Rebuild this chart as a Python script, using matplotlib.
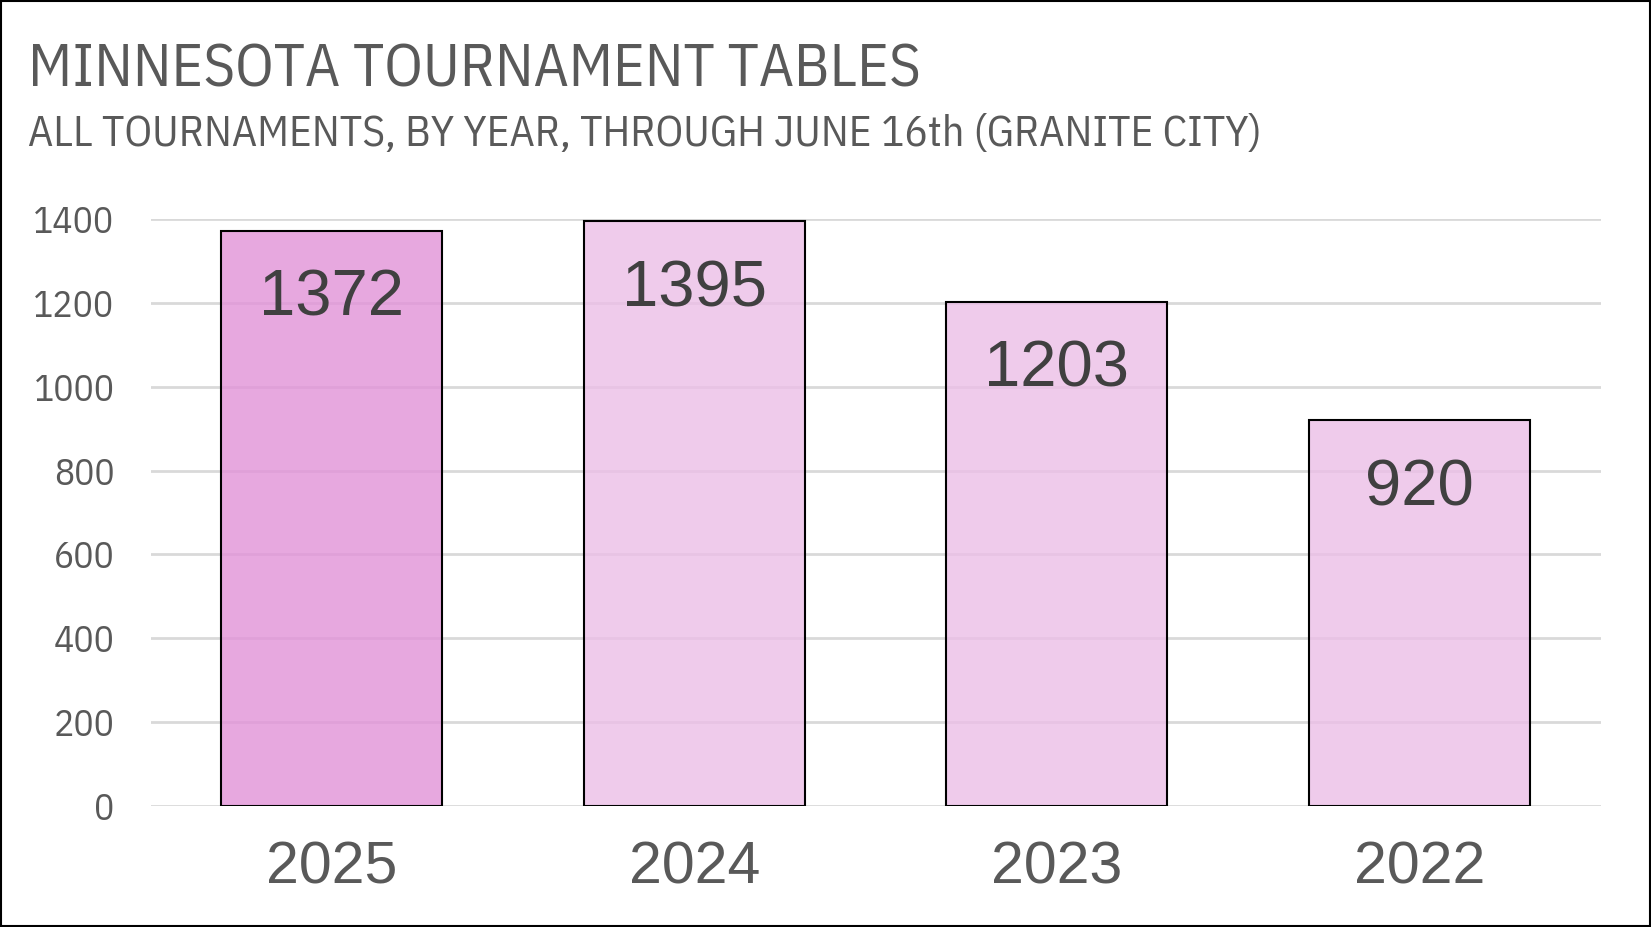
import matplotlib.pyplot as plt
from matplotlib.patches import Rectangle

# data
years = ['2025', '2024', '2023', '2022']
tables = [1372, 1395, 1203, 920]
yticks = [0, 200, 400, 600, 800, 1000, 1200, 1400]

narrow = ['IBM Plex Sans Condensed', 'Liberation Sans', 'DejaVu Sans']
plain = ['Liberation Sans', 'DejaVu Sans']
plt.rcParams['font.family'] = narrow

fig = plt.figure(figsize=(16.51, 9.27), dpi=100)
ax = fig.add_axes([0.0912, 0.1305, 0.8783, 0.6333])

# bars are a bit see-through so the gridlines show across them
colors = [(0.886, 0.573, 0.847, 0.8)] + [(0.925, 0.745, 0.906, 0.8)] * 3
x = range(len(years))
bars = ax.bar(x, tables, width=0.61, color=colors, edgecolor='black',
              linewidth=1.5, zorder=3)

for xi, v in zip(x, tables):
    ax.annotate(str(v), (xi, v), xytext=(0, -49), textcoords='offset points',
                ha='center', va='center', fontsize=47, color='#404040',
                family=plain, zorder=4)

ax.set_xlim(-0.5, 3.5)
ax.set_ylim(0, 1400)
ax.set_yticks(yticks)
ax.set_yticklabels([str(t) for t in yticks])
ax.set_xticks(list(x))
ax.set_xticklabels(years)
ax.yaxis.grid(True, color='#d9d9d9', linewidth=2, zorder=2)
for s in ax.spines.values():
    s.set_visible(False)
ax.tick_params(axis='both', length=0)
ax.tick_params(axis='y', labelsize=27, labelcolor='#595959', pad=26)
ax.tick_params(axis='x', labelsize=42.5, labelcolor='#595959', pad=25)
for lab in ax.get_xticklabels():
    lab.set_family(plain)

fig.text(0.017, 0.907, 'MINNESOTA TOURNAMENT TABLES', fontsize=43.7,
         color='#595959', ha='left', va='baseline')
fig.text(0.017, 0.843, 'ALL TOURNAMENTS, BY YEAR, THROUGH JUNE 16th (GRANITE CITY)',
         fontsize=31.4, color='#595959', ha='left', va='baseline')

# thin frame round the whole picture
fig.patches.append(Rectangle((0.0008, 0.0012), 0.9984, 0.9976, transform=fig.transFigure,
                             fill=False, edgecolor='black', linewidth=1.5))

fig.savefig('out.png', dpi=100)
